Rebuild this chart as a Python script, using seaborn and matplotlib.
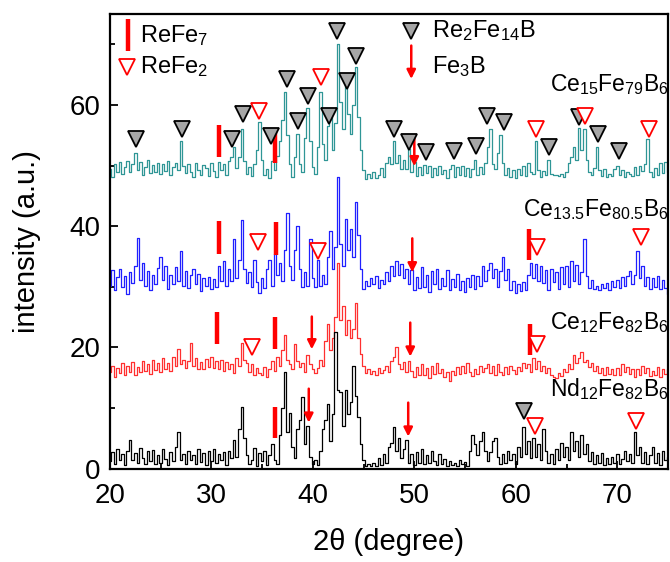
import numpy as np
import pandas as pd
import matplotlib.pyplot as plt
import seaborn as sns

# 2theta sampling (degree), values every 0.25 deg
two_theta = np.arange(20, 75.001, 0.25)

ce15 = [49.5, 48.2, 50.3, 49.0, 50.6, 48.6, 49.8, 50.8, 48.9, 50.2, 52.0, 49.3, 50.6, 48.4, 49.7, 50.9, 48.8, 50.1, 49.0, 50.5,
        48.6, 50.2, 49.1, 50.7, 48.5, 49.8, 50.4, 49.2, 54.1, 50.0, 48.7, 50.3, 49.0, 48.2, 50.5, 49.3, 48.4, 50.1, 49.6, 48.3,
        50.4, 49.1, 48.2, 50.6, 49.3, 50.2, 48.4, 50.8, 51.5, 53.0, 49.6, 51.4, 56.0, 50.8, 48.6, 49.8, 48.3, 50.2, 52.5, 57.2,
        51.0, 48.4, 49.5, 47.9, 50.8, 49.2, 51.6, 54.0, 57.5, 62.1, 55.0, 50.2, 48.2, 51.5, 55.2, 50.3, 49.0, 54.5, 59.5, 54.0,
        49.8, 48.6, 53.0, 62.1, 53.5, 51.0, 56.5, 58.0, 52.5, 57.0, 70.1, 60.5, 56.0, 63.5, 58.5, 55.2, 60.0, 66.3, 58.0, 52.5,
        49.2, 47.8, 48.6, 48.0, 48.9, 47.9, 48.5, 49.6, 48.2, 50.4, 51.5, 50.2, 54.0, 50.5, 51.8, 49.4, 51.0, 49.5, 52.7, 49.0,
        50.6, 48.3, 49.8, 48.5, 50.1, 48.7, 49.9, 48.1, 49.6, 48.4, 50.0, 48.6, 49.2, 48.0, 49.5, 50.1, 48.2, 49.7, 48.5, 49.9,
        48.3, 49.6, 48.1, 49.4, 51.0, 48.5, 49.8, 48.6, 50.5, 53.0, 56.0, 50.3, 49.5, 52.0, 55.0, 50.5, 48.5, 49.6, 48.2, 49.2,
        48.0, 49.5, 48.4, 49.9, 48.3, 50.5, 49.0, 48.6, 54.1, 49.3, 48.2, 49.1, 48.4, 51.0, 48.6, 48.4, 48.5, 48.3, 48.6, 48.2,
        49.0, 50.5, 51.5, 53.0, 51.0, 56.2, 52.5, 56.0, 51.0, 49.0, 48.4, 49.6, 53.0, 49.2, 48.3, 49.4, 48.2, 48.6, 48.3, 49.5,
        50.0, 48.5, 49.2, 48.1, 49.0, 48.6, 48.3, 49.7, 48.4, 50.0, 49.1, 50.3, 54.4, 49.0, 48.2, 49.6, 48.5, 50.4, 48.8, 50.6,
        49.0]

ce135 = [30.2, 32.8, 29.4, 31.6, 33.0, 30.0, 31.8, 28.8, 32.4, 30.6, 33.5, 38.0, 31.2, 34.0, 30.1, 32.6, 29.5, 31.9, 30.4, 33.1,
         35.0, 31.2, 33.4, 29.6, 32.0, 30.5, 33.2, 31.0, 35.9, 30.2, 32.6, 29.8, 31.9, 33.0, 30.4, 32.1, 29.3, 31.4, 30.2, 31.7,
         29.6, 31.3, 30.0, 33.5, 31.0, 34.2, 30.2, 33.0, 31.0, 37.9, 31.5, 34.5, 41.0, 33.0, 30.6, 32.5, 30.0, 34.5, 30.8, 29.0,
         31.5, 29.8, 33.0, 34.5, 30.2, 35.5, 32.0, 34.0, 31.0, 36.0, 42.1, 33.5, 31.2, 36.0, 40.0, 33.0, 30.0, 32.5, 30.2, 37.9,
         31.5, 30.0, 34.5, 30.2, 32.0, 30.5, 35.0, 39.2, 33.0, 36.5, 48.1, 37.0, 33.5, 41.2, 36.0, 39.5, 35.0, 44.0, 38.5, 33.0,
         29.6, 31.0, 30.2, 31.5, 30.4, 31.8, 29.8, 31.2, 30.5, 32.5, 31.0, 33.5, 31.8, 34.2, 32.0, 33.8, 31.5, 33.0, 30.5, 32.8,
         29.5, 31.6, 29.8, 33.2, 30.0, 31.9, 29.2, 32.6, 30.4, 33.0, 29.6, 31.5, 30.1, 32.8, 29.4, 31.3, 30.0, 32.2, 29.5, 31.0,
         29.2, 31.4, 30.0, 32.0, 29.6, 31.8, 30.2, 33.5, 31.0, 32.8, 34.0, 31.5, 33.0, 30.0, 32.6, 34.9, 31.2, 33.0, 29.5, 31.0,
         29.0, 30.5, 29.3, 30.8, 29.5, 32.0, 34.0, 31.5, 33.8, 31.0, 33.5, 30.6, 32.8, 29.4, 33.0, 30.8, 32.5, 29.6, 33.2, 30.4,
         33.5, 30.0, 34.2, 31.0, 33.6, 30.5, 32.4, 37.9, 31.8, 29.8, 31.2, 29.6, 30.2, 29.5, 30.4, 29.8, 30.6, 29.4, 31.0, 30.0,
         31.2, 29.8, 31.6, 30.2, 31.8, 32.6, 30.5, 32.0, 35.9, 31.5, 33.5, 30.2, 31.6, 29.7, 31.4, 30.0, 31.8, 29.6, 31.2, 29.8,
         28.8]

ce12 = [15.9, 17.0, 15.2, 16.6, 15.8, 17.5, 15.4, 16.9, 16.0, 17.6, 15.5, 16.8, 15.9, 17.8, 16.2, 17.2, 15.6, 18.0, 16.3, 17.4,
        16.0, 18.2, 16.5, 17.5, 16.2, 18.4, 17.0, 19.7, 17.2, 18.0, 16.6, 17.8, 20.8, 17.0, 18.3, 16.5, 17.6, 16.4, 18.1, 16.8,
        18.5, 16.6, 17.8, 16.5, 18.0, 16.2, 17.6, 16.4, 17.2, 15.8, 18.2, 17.0, 20.8, 18.0, 17.5, 16.0, 17.2, 15.5, 16.6, 15.8,
        15.4, 16.8, 15.2, 16.5, 17.8, 16.2, 18.5, 17.0, 19.5, 22.1, 18.0, 17.2, 16.5, 20.5, 17.8, 16.8, 17.5, 16.0, 18.8, 17.2,
        16.5, 15.8, 16.6, 18.0, 17.0, 21.0, 23.8, 19.5, 21.5, 25.0, 34.0, 24.5, 26.8, 22.0, 24.6, 21.5, 23.0, 27.4, 21.5, 19.0,
        16.9, 15.8, 16.4, 15.6, 16.2, 15.5, 16.6, 15.8, 16.3, 17.0, 16.0, 17.8, 18.5, 20.0, 17.2, 16.5, 17.6, 15.9, 17.8, 16.2,
        15.2, 16.8, 15.5, 17.2, 15.4, 16.6, 15.0, 16.9, 15.6, 17.5, 15.8, 16.4, 15.1, 16.0, 14.5, 16.2, 15.4, 16.8, 15.6, 17.0,
        15.8, 17.4, 16.0, 15.3, 16.5, 15.6, 17.0, 15.9, 16.6, 17.2, 15.8, 16.9, 15.5, 17.3, 16.0, 15.4, 16.8, 15.7, 17.0, 16.3,
        15.6, 16.8, 16.2, 17.5, 16.6, 17.2, 16.0, 18.3, 16.5, 17.8, 16.2, 17.0, 15.8, 16.6, 15.5, 15.2, 15.0, 15.8, 15.3, 16.4,
        16.0, 17.2, 16.5, 18.8, 17.5, 18.2, 19.3, 17.6, 18.0, 16.8, 17.4, 16.2, 17.0, 15.8, 16.6, 15.5, 16.8, 15.6, 16.4, 15.4,
        16.6, 15.5, 17.2, 16.0, 16.8, 15.6, 16.4, 15.2, 16.5, 15.4, 17.0, 15.8, 16.6, 15.3, 16.2, 15.5, 16.8, 15.2, 16.4, 15.6,
        16.5]

nd12 = [1.2, 2.8, 0.8, 3.2, 1.5, 2.4, 0.6, 3.0, 4.8, 1.4, 2.6, 0.9, 3.4, 1.8, 0.7, 2.9, 1.3, 3.1, 0.8, 2.2,
        1.0, 3.3, 1.6, 0.6, 2.7, 1.2, 3.5, 6.0, 1.4, 2.5, 0.8, 3.0, 1.5, 2.2, 0.7, 3.2, 1.1, 2.6, 0.6, 2.9,
        1.3, 3.2, 0.9, 2.4, 1.5, 2.8, 0.6, 3.0, 1.8, 4.8, 2.0, 6.5, 10.1, 5.0, 2.2, 0.8, 1.5, 3.4, 0.5, 2.6,
        1.2, 3.0, 0.6, 2.2, 4.0, 1.5, 0.8, 5.5, 10.0, 15.9, 6.0, 9.2, 3.5, 1.8, 6.5, 8.0, 11.9, 4.0, 7.0, 2.0,
        0.8, 1.5, 0.6, 3.0, 6.5, 8.0, 10.6, 4.5, 9.0, 22.5, 13.0, 12.6, 7.0, 13.0, 9.0, 11.0, 16.9, 12.0, 8.6, 4.0,
        1.5, 0.5, 0.8, 0.4, 1.0, 0.5, 1.8, 0.6, 2.4, 1.0, 3.5, 4.2, 6.8, 3.0, 5.0, 1.8, 3.2, 4.8, 1.0, 2.5,
        0.6, 2.8, 1.0, 3.2, 0.7, 2.2, 0.9, 3.0, 1.2, 0.6, 2.5, 0.8, 1.6, 0.5, 1.2, 0.6, 1.0, 0.4, 1.5, 0.7,
        1.1, 0.5, 3.0, 5.5, 4.0, 2.2, 4.5, 6.0, 3.0, 1.2, 2.8, 4.6, 5.1, 2.0, 0.8, 2.5, 1.0, 3.0, 1.5, 2.4,
        0.8, 3.5, 2.0, 6.8, 2.5, 4.5, 1.8, 5.1, 2.0, 4.0, 1.5, 6.5, 3.0, 1.0, 2.4, 0.8, 3.2, 1.4, 4.2, 2.0,
        3.6, 1.5, 6.0, 3.0, 4.5, 2.0, 5.5, 2.5, 4.0, 1.2, 2.8, 0.8, 2.2, 1.0, 2.6, 0.6, 1.8, 0.7, 2.0, 1.0,
        2.4, 0.8, 1.6, 3.0, 1.2, 2.5, 0.9, 6.0, 2.2, 3.5, 1.0, 2.8, 0.7, 2.2, 3.5, 1.0, 2.6, 0.6, 3.0, 1.4,
        2.0]

samples = ["Ce$_{15}$Fe$_{79}$B$_6$", "Ce$_{13.5}$Fe$_{80.5}$B$_6$", "Ce$_{12}$Fe$_{82}$B$_6$", "Nd$_{12}$Fe$_{82}$B$_6$"]
sample_colors = ["#2f9696", "#2020ff", "#ff3030", "#000000"]
label_y = [62.3, 41.6, 23.0, 11.9]

# phase markers (2theta, height)
re2fe14b_x = [22.6, 27.1, 32.0, 33.1, 35.9, 37.5, 38.5, 39.5, 41.6, 42.4, 43.4, 44.3, 48.0, 49.5, 51.2,
              53.9, 56.1, 57.2, 58.8, 63.3, 66.2, 68.1, 70.2, 60.8]
re2fe14b_y = [54.4, 56.0, 54.4, 58.5, 54.9, 64.3, 57.4, 61.5, 58.2, 72.2, 64.0, 68.1, 56.0, 53.9, 52.2,
              52.4, 53.2, 58.2, 57.2, 53.1, 58.0, 55.2, 52.4, 9.5]
refe2_x = [34.7, 40.8, 62.0, 66.8, 73.1, 34.6, 40.5, 62.1, 72.3, 34.0, 62.1, 61.9, 71.8]
refe2_y = [59.0, 64.6, 56.0, 58.2, 56.0, 37.4, 35.9, 36.5, 38.3, 20.0, 20.5, 7.0, 7.8]
refe7_x = [30.8, 36.3, 30.8, 36.4, 61.3, 30.6, 36.3, 61.4, 36.3]
refe7_lo = [51.4, 50.5, 35.5, 35.3, 34.5, 20.5, 19.7, 18.7, 5.1]
refe7_hi = [56.7, 55.6, 40.8, 40.7, 39.5, 25.8, 25.0, 23.8, 10.2]
fe3b_x = [50.0, 49.8, 39.9, 49.6, 39.6, 49.4]
fe3b_top = [54.9, 38.0, 25.1, 24.1, 13.2, 10.9]
fe3b_tip = [49.9, 32.4, 19.7, 18.5, 7.6, 5.3]

sns.set_style("ticks")
plt.rcParams['font.family'] = ['Liberation Sans', 'DejaVu Sans']
plt.rcParams['mathtext.default'] = 'regular'
plt.rcParams.update({'text.color': 'black', 'axes.labelcolor': 'black',
                     'xtick.color': 'black', 'ytick.color': 'black',
                     'axes.edgecolor': 'black'})

fig = plt.figure(figsize=(6.7, 5.62), dpi=100)
ax = fig.add_axes([0.164, 0.166, 0.833, 0.809])

for vals, col in zip([ce15, ce135, ce12, nd12], sample_colors):
    df = pd.DataFrame({'two_theta': two_theta, 'intensity': vals})
    sns.lineplot(data=df, x='two_theta', y='intensity', color=col, lw=0.9,
                 estimator=None, sort=False, ax=ax, drawstyle='steps-mid')

for s, yy in zip(samples, label_y):
    ax.text(75.1, yy, s, ha='right', va='baseline', fontsize=16.5)

ax.vlines(refe7_x, refe7_lo, refe7_hi, color='red', lw=3.2, zorder=4)
ax.plot(re2fe14b_x, re2fe14b_y, 'v', ms=12, mfc='#a6a6a6', mec='black', mew=1.3, ls='none', zorder=5)
ax.plot(refe2_x, refe2_y, 'v', ms=12, mfc='white', mec='red', mew=1.3, ls='none', zorder=5)
for x0, y0, y1 in zip(fe3b_x, fe3b_top, fe3b_tip):
    ax.annotate('', xy=(x0, y1), xytext=(x0, y0),
                arrowprops=dict(arrowstyle='-|>', color='red', lw=1.8, mutation_scale=13, shrinkA=0, shrinkB=0))

# legend drawn by hand like the original
ax.vlines([21.8], [68.9], [74.2], color='red', lw=3.2)
ax.plot([21.7], [66.3], 'v', ms=12, mfc='white', mec='red', mew=1.3)
ax.text(23.0, 71.4, "ReFe$_7$", va='center', fontsize=17)
ax.text(23.0, 66.3, "ReFe$_2$", va='center', fontsize=17)
ax.plot([49.7], [72.2], 'v', ms=12, mfc='#a6a6a6', mec='black', mew=1.3)
ax.annotate('', xy=(49.7, 64.3), xytext=(49.7, 69.8),
            arrowprops=dict(arrowstyle='-|>', color='red', lw=1.8, mutation_scale=13, shrinkA=0, shrinkB=0))
ax.text(51.7, 72.2, "Re$_2$Fe$_{14}$B", va='center', fontsize=17)
ax.text(51.7, 66.4, "Fe$_3$B", va='center', fontsize=17)

ax.set_xlim(20, 75)
ax.set_ylim(0, 75)
ax.set_xticks([20, 30, 40, 50, 60, 70])
ax.set_xticks([25, 35, 45, 55, 65, 75], minor=True)
ax.set_yticks([0, 20, 40, 60])
ax.set_yticks([10, 30, 50, 70], minor=True)
ax.tick_params(which='both', direction='in', width=1.3, labelsize=20)
ax.tick_params(which='major', length=6)
ax.tick_params(which='minor', length=3.5)
ax.tick_params(axis='x', which='major', pad=10)
ax.tick_params(axis='y', which='major', pad=7)
for sp in ax.spines.values():
    sp.set_visible(True)
    sp.set_linewidth(1.6)
ax.set_xlabel("2θ (degree)", fontsize=21, labelpad=14)
ax.set_ylabel("intensity (a.u.)", fontsize=21, labelpad=20)

fig.savefig("out.png", dpi=100)
